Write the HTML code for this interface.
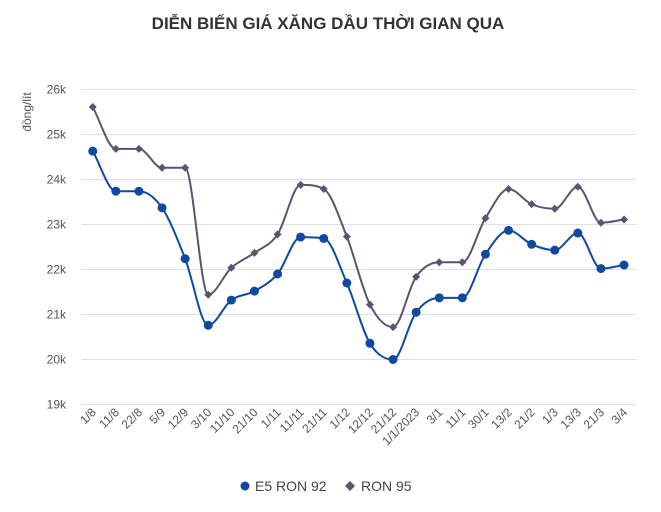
<!DOCTYPE html>
<html><head><meta charset="utf-8"><style>
html,body{margin:0;padding:0;background:#fff;}
svg{display:block;font-family:"Liberation Sans",sans-serif;}
</style></head><body>
<svg id="chart" width="661" height="512" viewBox="0 0 661 512">
<text x="328" y="29" text-anchor="middle" font-size="17" font-weight="bold" fill="#333">DIỄN BIẾN GIÁ XĂNG DẦU THỜI GIAN QUA</text>
<text transform="translate(31,112) rotate(-90)" text-anchor="middle" font-size="12" fill="#555">đồng/lít</text>
<g id="grid"></g><g id="xlabels"></g><g id="series"></g>
<g>
<g><circle cx="245" cy="486" r="4.5" fill="#0f4aa0"/><text x="255" y="491" font-size="14" fill="#444">E5 RON 92</text></g>
<g><path d="M350,481 L355,486 L350,491 L345,486Z" fill="#5a5470"/><text x="361" y="491" font-size="14" fill="#444">RON 95</text></g>
</g>
</svg>
<script>
const categories=["1/8","11/8","22/8","5/9","12/9","3/10","11/10","21/10","1/11","11/11","21/11","1/12","12/12","21/12","1/1/2023","3/1","11/1","30/1","13/2","21/2","1/3","13/3","21/3","3/4"];
const e5Values=[24.63,23.74,23.74,23.37,22.24,20.76,21.32,21.52,21.90,22.72,22.69,21.70,20.36,20.00,21.05,21.37,21.37,22.34,22.87,22.56,22.43,22.81,22.02,22.10];
const ron95Values=[25.61,24.68,24.68,24.26,24.26,21.44,22.04,22.37,22.78,23.88,23.79,22.73,21.22,20.72,21.84,22.16,22.16,23.14,23.79,23.45,23.35,23.84,23.04,23.11];
const yTicks=[19,20,21,22,23,24,25,26];
const NS="http://www.w3.org/2000/svg";
const x0=81.2,x1=635.6,yTop=89.5,yBot=404.5,vMin=19,vMax=26;
const bw=(x1-x0)/categories.length;
function xPos(i){return x0+bw*(i+0.5);}
function yPos(v){return yBot-(v-vMin)/(vMax-vMin)*(yBot-yTop);}
function mk(tag,attrs,parent){const e=document.createElementNS(NS,tag);for(const k in attrs)e.setAttribute(k,attrs[k]);parent.appendChild(e);return e;}
const grid=document.getElementById('grid');
yTicks.forEach(t=>{
  const l=mk('line',{x1:x0,x2:x1,y1:yPos(t),y2:yPos(t),stroke:'#e0e0e0','stroke-width':1},grid);
  
  
  const tx=mk('text',{x:66,y:yPos(t)+4,'text-anchor':'end','font-size':12,fill:'#555'},grid);
  tx.textContent=t+'k';
  
  
});
const xl=document.getElementById('xlabels');
categories.forEach((c,i)=>{
  const x=xPos(i)+4,y=413;
  const tx=mk('text',{x:x,y:y,'text-anchor':'end','font-size':12,fill:'#555',transform:`rotate(-45 ${x} ${y})`},xl);
  tx.textContent=c;
  
  
});
function monoPath(pts){
  const n=pts.length,d=[],m=[];
  for(let i=0;i<n-1;i++)d.push((pts[i+1][1]-pts[i][1])/(pts[i+1][0]-pts[i][0]));
  m[0]=d[0];m[n-1]=d[n-2];
  for(let i=1;i<n-1;i++){m[i]=(d[i-1]*d[i]<=0)?0:(d[i-1]+d[i])/2;}
  for(let i=0;i<n-1;i++){if(d[i]===0){m[i]=0;m[i+1]=0;continue;}const a=m[i]/d[i],b=m[i+1]/d[i],s=a*a+b*b;if(s>9){const t=3/Math.sqrt(s);m[i]=t*a*d[i];m[i+1]=t*b*d[i];}}
  let p=`M${pts[0][0]},${pts[0][1]}`;
  for(let i=0;i<n-1;i++){const h=(pts[i+1][0]-pts[i][0])/3;p+=` C${pts[i][0]+h},${pts[i][1]+m[i]*h} ${pts[i+1][0]-h},${pts[i+1][1]-m[i+1]*h} ${pts[i+1][0]},${pts[i+1][1]}`;}
  return p;
}
const sg=document.getElementById('series');
function drawSeries(vals,color,name,diamond){
  const pts=vals.map((v,i)=>[xPos(i),yPos(v)]);
  const p=mk('path',{d:monoPath(pts),fill:'none',stroke:color,'stroke-width':2},sg);
  
  
  pts.forEach(([x,y])=>{
    let e;
    if(diamond)e=mk('path',{d:`M${x},${y-4} L${x+4},${y} L${x},${y+4} L${x-4},${y}Z`,fill:color},sg);
    else e=mk('circle',{cx:x,cy:y,r:4.5,fill:color},sg);
    
    
  });
}
drawSeries(ron95Values,'#5a5470','ron95',true);
drawSeries(e5Values,'#0f4aa0','e5',false);
</script>
</body></html>
